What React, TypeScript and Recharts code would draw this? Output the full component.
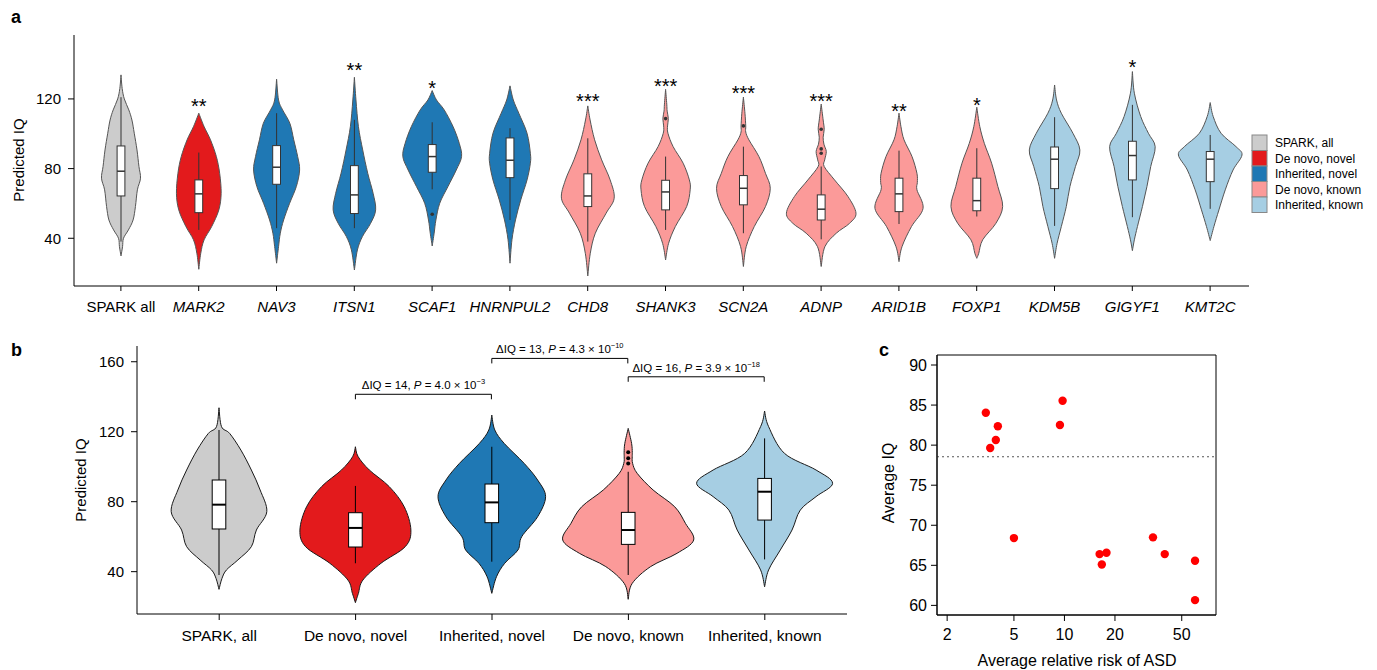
import React from "react";
import {
  ComposedChart,
  Bar,
  XAxis,
  YAxis,
  ScatterChart,
  Scatter,
  ReferenceLine,
  ReferenceArea,
} from "recharts";

const FONT = '"Liberation Sans", Arial, Helvetica, sans-serif';

// ---------------- shared groups ----------------
const groupNames = ["SPARK, all", "De novo, novel", "Inherited, novel", "De novo, known", "Inherited, known"];
const groupColors = ["#cccccc", "#e31a1c", "#1f78b4", "#fb9a99", "#a6cee3"];

// ---------------- panel a ----------------
const genesA = ["SPARK all", "MARK2", "NAV3", "ITSN1", "SCAF1", "HNRNPUL2", "CHD8", "SHANK3", "SCN2A", "ADNP", "ARID1B", "FOXP1", "KDM5B", "GIGYF1", "KMT2C"];
const groupOfGeneA = [0, 1, 2, 2, 2, 2, 3, 3, 3, 3, 3, 3, 4, 4, 4];
const tipLowA = [29.9, 22.2, 25.7, 21.8, 35.6, 25.7, 18.4, 27.6, 23.8, 23.8, 26.6, 28.5, 28.5, 32.9, 38.7];
const tipHighA = [133.8, 111.8, 131.3, 132.4, 124.8, 127.5, 116, 125.5, 121, 117, 111.8, 115.2, 128, 135.7, 117.9];
const q1A = [64.3, 54.7, 71, 54.2, 77.9, 74.8, 58.2, 56.3, 59.2, 50.5, 55.3, 55.8, 68.5, 73.5, 72.5];
const medianA = [78.5, 65.5, 80.8, 64.9, 86.9, 84.8, 64.3, 66.6, 68.7, 56.7, 65.5, 61.6, 85.4, 87.5, 85.4];
const q3A = [93, 73.5, 93.2, 81.7, 93.8, 97.6, 77, 73.3, 76, 64.9, 74.5, 74.5, 92.4, 95.7, 89.8];
const whiskLoA = [38.1, 44.8, 45.8, 45.8, 68.1, 50.5, 38.1, 44.8, 42.9, 39.4, 48.2, 52.5, 47.1, 52.1, 56.9];
const whiskHiA = [121, 89.2, 111.8, 108, 106.6, 103.2, 97.4, 86.9, 92.6, 81.2, 90.3, 91.7, 109.5, 116.6, 99.3];
const outliersA = [[], [], [], [], [53.8], [], [], [108.7], [104.5], [102.6, 91.3, 88.8], [], [], [], [], []];
const starsA = ["", "**", "", "**", "*", "", "***", "***", "***", "***", "**", "*", "", "*", ""];
const starIQA = [0, 118.5, 0, 138.9, 128.4, 0, 121.3, 129.6, 125.5, 121.3, 115.6, 118.9, 0, 140.5, 0];
// relative density (1 = half category width) at IQ levels
const densityA: number[][][] = [
  [[35.2, 0.04], [40, 0.064], [44.8, 0.19], [50.5, 0.31], [58.2, 0.37], [67.8, 0.42], [74.5, 0.5], [81.2, 0.46], [90.7, 0.41], [100.3, 0.34], [107.9, 0.28], [113.7, 0.2], [120, 0.085], [126, 0.03]],
  [[31.4, 0.05], [39.1, 0.136], [46.7, 0.33], [56.3, 0.514], [65.8, 0.573], [77.3, 0.535], [86.9, 0.45], [96.5, 0.3], [104.1, 0.136]],
  [[35.2, 0.05], [42.9, 0.095], [50.5, 0.18], [60.1, 0.334], [69.7, 0.506], [79.2, 0.59], [86.9, 0.54], [96.5, 0.44], [106, 0.34], [113.7, 0.154], [119.4, 0.05]],
  [[33.3, 0.077], [41, 0.206], [48.6, 0.416], [56.3, 0.545], [65.8, 0.48], [77.3, 0.342], [90.7, 0.213], [104.1, 0.103], [119.4, 0.04]],
  [[42.9, 0.05], [50.5, 0.095], [60.1, 0.193], [69.7, 0.404], [79.2, 0.617], [86.9, 0.753], [94.5, 0.694], [104.1, 0.535], [113.7, 0.308], [119.4, 0.11]],
  [[39.1, 0.05], [50.5, 0.141], [62, 0.275], [73.5, 0.437], [83.1, 0.522], [88.8, 0.522], [100.3, 0.437], [111.8, 0.226], [119.4, 0.085]],
  [[31.4, 0.064], [42.9, 0.193], [54.4, 0.47], [63, 0.676], [73.5, 0.573], [85, 0.355], [96.5, 0.175], [107.9, 0.059]],
  [[37.1, 0.077], [46.7, 0.249], [58.2, 0.54], [67.8, 0.63], [73.5, 0.609], [83.1, 0.45], [92.6, 0.193], [100.3, 0.06], [104.5, 0.05], [108.7, 0.07], [113, 0.04], [117, 0.03]],
  [[35.2, 0.072], [46.7, 0.278], [58.2, 0.566], [68.7, 0.689], [77.3, 0.566], [86.9, 0.398], [96.5, 0.141], [101, 0.06], [104.5, 0.06], [111.8, 0.04]],
  [[35.2, 0.095], [42.9, 0.386], [48.6, 0.728], [54.4, 0.892], [64, 0.686], [73.5, 0.342], [81.2, 0.077], [85, 0.09], [89.8, 0.13], [94, 0.07], [98, 0.05], [102.6, 0.077], [107.9, 0.05]],
  [[35.2, 0.077], [46.7, 0.319], [57.2, 0.617], [67.8, 0.46], [72, 0.47], [77.3, 0.46], [86.9, 0.334], [96.5, 0.129], [104.1, 0.05]],
  [[31.4, 0.05], [39.1, 0.15], [48.6, 0.49], [58.2, 0.663], [69.7, 0.54], [83.1, 0.38], [94.5, 0.193], [104.1, 0.077]],
  [[37.1, 0.064], [46.7, 0.172], [58.2, 0.3], [69.7, 0.393], [81.2, 0.535], [90.7, 0.648], [100.3, 0.47], [111.8, 0.172], [119.4, 0.05]],
  [[39.1, 0.05], [46.7, 0.129], [58.2, 0.257], [69.7, 0.373], [81.2, 0.47], [92.6, 0.584], [100.3, 0.41], [109.9, 0.213], [123.3, 0.05]],
  [[46.7, 0.095], [56.3, 0.224], [67.8, 0.386], [79.2, 0.586], [87.8, 0.815], [92.6, 0.663], [100.3, 0.278], [109.9, 0.077]],
];
const yTicksA = [40, 80, 120];

// ---------------- panel b ----------------
const tipLowB = [29.9, 22.3, 27.6, 24.2, 31.4];
const tipHighB = [133.7, 111.4, 129.5, 121.9, 131.8];
const q1B = [64.4, 54.1, 68, 55.6, 69.5];
const medianB = [78.3, 65, 79.6, 63.8, 85.7];
const q3B = [92.4, 73.7, 90.1, 73.9, 93.3];
const whiskLoB = [38.1, 44.8, 45.7, 38.1, 47];
const whiskHiB = [121, 89, 111.4, 97.1, 116.2];
const outliersB = [[], [], [], [108.2, 104.8, 101.9], []];
const densityB: number[][][] = [
  [[36.2, 0.044], [41, 0.11], [46.7, 0.278], [54.3, 0.476], [63.8, 0.55], [74.3, 0.703], [86.7, 0.605], [98.1, 0.476], [109.5, 0.322], [119, 0.157], [122.9, 0.037]],
  [[27.6, 0.044], [35.2, 0.11], [44.8, 0.376], [54.3, 0.733], [63.8, 0.816], [77.1, 0.718], [88.6, 0.498], [98.1, 0.205], [105.7, 0.041]],
  [[37.1, 0.069], [44.8, 0.19], [52.4, 0.385], [60, 0.44], [71.4, 0.674], [82.9, 0.791], [92.4, 0.674], [101.9, 0.476], [113.3, 0.183], [121, 0.044]],
  [[33.3, 0.059], [42.9, 0.33], [50.5, 0.718], [58.1, 0.963], [67.6, 0.842], [77.1, 0.684], [86.7, 0.366], [96.2, 0.132], [101.9, 0.065], [105.7, 0.059], [108.2, 0.06], [113.3, 0.05]],
  [[41, 0.059], [52.4, 0.231], [63.8, 0.403], [75.2, 0.525], [82.9, 0.757], [90.5, 1.0], [98.1, 0.757], [107.6, 0.293], [122.9, 0.059]],
];
const yTicksB = [40, 80, 120, 160];
const bracketFromB = [1, 2, 3];
const bracketToB = [2, 3, 4];
const bracketIQB = [141.4, 161.9, 151.4];
const bracketDeltaB = [14, 13, 16];
const bracketPMantB = ["4.0", "4.3", "3.9"];
const bracketPExpB = ["\u22123", "\u221210", "\u221218"];

// ---------------- panel c ----------------
const relRiskC = [3.4, 4.01, 3.9, 3.61, 9.75, 9.4, 5.0, 16.2, 17.8, 16.7, 33.7, 39.6, 60, 60];
const avgIQC = [84.04, 82.35, 80.64, 79.64, 85.54, 82.51, 68.4, 66.4, 66.57, 65.1, 68.49, 66.4, 65.57, 60.66];
const sparkMeanIQ = 78.55;
const xTicksC = [2, 5, 10, 20, 50];
const yTicksC = [60, 65, 70, 75, 80, 85, 90];

// ---------------- tables ----------------
const dataA = genesA.map((g, i) => ({
  name: g,
  range: [tipLowA[i], tipHighA[i]],
  density: densityA[i],
  q1: q1A[i],
  median: medianA[i],
  q3: q3A[i],
  whiskLo: whiskLoA[i],
  whiskHi: whiskHiA[i],
  outliers: outliersA[i],
  star: starsA[i],
  starIQ: starIQA[i],
  color: groupColors[groupOfGeneA[i]],
  brackets: [] as any[],
}));

const dataB = groupNames.map((g, i) => ({
  name: g,
  range: [tipLowB[i], tipHighB[i]],
  density: densityB[i],
  q1: q1B[i],
  median: medianB[i],
  q3: q3B[i],
  whiskLo: whiskLoB[i],
  whiskHi: whiskHiB[i],
  outliers: outliersB[i],
  star: "",
  starIQ: 0,
  color: groupColors[i],
  brackets: bracketFromB
    .map((f, k) => ({ f, span: bracketToB[k] - f, iq: bracketIQB[k], delta: bracketDeltaB[k], mant: bracketPMantB[k], exp: bracketPExpB[k] }))
    .filter((b) => b.f === i),
}));

const dataC = relRiskC.map((r, i) => ({ rr: r, iq: avgIQC[i] }));

// ---------------- helpers ----------------
function catmull(pts: number[][]): string {
  let d = "";
  for (let i = 0; i < pts.length - 1; i++) {
    const p0 = pts[i - 1] || pts[i];
    const p1 = pts[i];
    const p2 = pts[i + 1];
    const p3 = pts[i + 2] || pts[i + 1];
    const c1x = p1[0] + (p2[0] - p0[0]) / 6;
    const c1y = p1[1] + (p2[1] - p0[1]) / 6;
    const c2x = p2[0] - (p3[0] - p1[0]) / 6;
    const c2y = p2[1] - (p3[1] - p1[1]) / 6;
    d += ` C${c1x},${c1y} ${c2x},${c2y} ${p2[0]},${p2[1]}`;
  }
  return d;
}

type VStyle = { outline: string; box: string; medW: number; outR: number; outFill: string; lw: number; whisk: string };

function makeViolin(st: VStyle) {
  return function ViolinShape(props: any) {
    const { x, y, width, height, payload } = props;
    if (!payload || !isFinite(x) || !isFinite(y)) return <g />;
    const lo = payload.range[0];
    const hi = payload.range[1];
    const top = Math.min(y, y + height);
    const bottom = Math.max(y, y + height);
    const toPx = (v: number) => bottom - ((bottom - top) * (v - lo)) / (hi - lo);
    const cx = x + width / 2;
    const hw = width / 2;
    const prof: number[][] = [[lo, 0], ...payload.density, [hi, 0]];
    const right = prof.map(([v, dd]) => [cx + dd * hw, toPx(v)]);
    const left = prof
      .slice()
      .reverse()
      .map(([v, dd]) => [cx - dd * hw, toPx(v)]);
    const d = `M${right[0][0]},${right[0][1]}` + catmull(right) + catmull(left) + "Z";
    const bw = width * 0.1;
    return (
      <g>
        <path d={d} fill={payload.color} stroke={st.outline} strokeWidth={st.lw} />
        <line x1={cx} x2={cx} y1={toPx(payload.whiskLo)} y2={toPx(payload.q1)} stroke={st.whisk} strokeWidth={st.lw} />
        <line x1={cx} x2={cx} y1={toPx(payload.q3)} y2={toPx(payload.whiskHi)} stroke={st.whisk} strokeWidth={st.lw} />
        <rect x={cx - bw / 2} y={toPx(payload.q3)} width={bw} height={toPx(payload.q1) - toPx(payload.q3)} fill="#ffffff" stroke={st.box} strokeWidth={st.lw} />
        <line x1={cx - bw / 2} x2={cx + bw / 2} y1={toPx(payload.median)} y2={toPx(payload.median)} stroke={st.box} strokeWidth={st.medW} />
        {payload.outliers.map((o: number, k: number) => (
          <circle key={k} cx={cx} cy={toPx(o)} r={st.outR} fill={st.outFill} />
        ))}
        {payload.star ? (
          <text x={cx} y={toPx(payload.starIQ) + 11} textAnchor="middle" fontSize={20} fontFamily={FONT} fill="#000">
            {payload.star}
          </text>
        ) : null}
        {payload.brackets.map((b: any, k: number) => {
          const by = toPx(b.iq);
          const x2 = cx + b.span * width;
          return (
            <g key={"br" + k}>
              <polyline points={`${cx},${by + 5} ${cx},${by} ${x2},${by} ${x2},${by + 5}`} fill="none" stroke="#000" strokeWidth={1} />
              <text x={(cx + x2) / 2} y={by - 5} textAnchor="middle" fontSize={11.5} fontFamily={FONT} fill="#000">
                {`\u0394IQ = ${b.delta}, `}
                <tspan fontStyle="italic">P</tspan>
                {` = ${b.mant} \u00d7 10`}
                <tspan dy={-5} fontSize={7.5}>{b.exp}</tspan>
              </text>
            </g>
          );
        })}
      </g>
    );
  };
}

const violinA = makeViolin({ outline: "#555555", box: "#333333", medW: 1.5, outR: 1.8, outFill: "#333333", lw: 1, whisk: "#333333" });
const violinB = makeViolin({ outline: "#1a1a1a", box: "#000000", medW: 2, outR: 2, outFill: "#000000", lw: 1, whisk: "#000000" });

const GeneTick = (props: any) => {
  const { x, y, payload } = props;
  const name = payload.value;
  const idx = genesA.indexOf(name);
  const italic = idx >= 0 && groupOfGeneA[idx] !== 0;
  return (
    <text x={x} y={y} dy={12} textAnchor="middle" fontSize={15} fontStyle={italic ? "italic" : "normal"} fill="#000" fontFamily={FONT}>
      {name}
    </text>
  );
};

const RedDot = (props: any) => {
  const { cx, cy } = props;
  if (!isFinite(cx) || !isFinite(cy)) return <g />;
  return <circle cx={cx} cy={cy} r={4.2} fill="#ff0000" />;
};

const axisLine = { stroke: "#000", strokeWidth: 1 };

export default function App() {
  return (
    <div style={{ position: "absolute", left: 0, top: 0, width: 1377, height: 670, background: "#fff", fontFamily: FONT }}>
      {/* panel a */}
      <div style={{ position: "absolute", left: 0, top: 0 }}>
        <ComposedChart width={1377} height={330} data={dataA} margin={{ top: 35, right: 128, bottom: 0, left: 0 }} barCategoryGap={0} barGap={0}>
          <XAxis dataKey="name" type="category" height={44} padding={{ left: 8, right: 0 }} axisLine={axisLine} tickLine={axisLine} tickSize={5} tickMargin={9} tick={<GeneTick />} interval={0} />
          <YAxis type="number" width={74} domain={[12.6, 156.7]} ticks={yTicksA} axisLine={axisLine} tickLine={axisLine} tickSize={6} tickMargin={7} tick={{ fill: "#000", fontSize: 15, fontFamily: FONT }} />
          <Bar dataKey="range" isAnimationActive={false} shape={violinA} />
        </ComposedChart>
      </div>

      {/* panel b */}
      <div style={{ position: "absolute", left: 0, top: 330 }}>
        <ComposedChart width={870} height={340} data={dataB} margin={{ top: 16, right: 23, bottom: 0, left: 0 }} barCategoryGap={0} barGap={0}>
          <XAxis dataKey="name" type="category" height={56} padding={{ left: 14, right: 14 }} axisLine={axisLine} tickLine={axisLine} tickSize={6} tickMargin={10} tick={{ fill: "#000", fontSize: 15.5, fontFamily: FONT }} interval={0} />
          <YAxis type="number" width={137} domain={[15.8, 169]} ticks={yTicksB} axisLine={axisLine} tickLine={axisLine} tickSize={6} tickMargin={7} tick={{ fill: "#000", fontSize: 15, fontFamily: FONT }} />
          <Bar dataKey="range" isAnimationActive={false} shape={violinB} />
        </ComposedChart>
      </div>

      {/* panel c */}
      <div style={{ position: "absolute", left: 870, top: 330 }}>
        <ScatterChart width={507} height={340} margin={{ top: 25, right: 161, bottom: 0, left: 0 }}>
          <XAxis dataKey="rr" type="number" scale="log" domain={[1.74, 80]} ticks={xTicksC} height={55} axisLine={axisLine} tickLine={axisLine} tickSize={6} tickMargin={8} tick={{ fill: "#000", fontSize: 16, fontFamily: FONT }} />
          <YAxis dataKey="iq" type="number" domain={[58.8, 91.25]} ticks={yTicksC} width={67} axisLine={axisLine} tickLine={axisLine} tickSize={6} tickMargin={4} tick={{ fill: "#000", fontSize: 16, fontFamily: FONT }} />
          <ReferenceArea x1={1.74} x2={80} y1={58.8} y2={91.25} fill="none" fillOpacity={0} stroke="#000" strokeWidth={1} ifOverflow="visible" />
          <ReferenceLine y={sparkMeanIQ} stroke="#555" strokeWidth={1.2} strokeDasharray="2 3" />
          <Scatter data={dataC} isAnimationActive={false} shape={<RedDot />} />
        </ScatterChart>
      </div>

      {/* overlay texts & legend */}
      <svg width={1377} height={670} style={{ position: "absolute", left: 0, top: 0, pointerEvents: "none" }} fontFamily={FONT}>
        <text x={11} y={23} fontSize={18} fontWeight="bold">a</text>
        <text x={11} y={356} fontSize={18} fontWeight="bold">b</text>
        <text x={879} y={356} fontSize={18} fontWeight="bold">c</text>
        <text x={18} y={160} fontSize={15} textAnchor="middle" dominantBaseline="central" transform="rotate(-90 18 160)">Predicted IQ</text>
        <text x={80} y={480} fontSize={15} textAnchor="middle" dominantBaseline="central" transform="rotate(-90 80 480)">Predicted IQ</text>
        <text x={888} y={483} fontSize={16} textAnchor="middle" dominantBaseline="central" transform="rotate(-90 888 483)">Average IQ</text>
        <text x={1077} y={666} fontSize={16} textAnchor="middle">Average relative risk of ASD</text>
        {groupNames.map((g, i) => (
          <g key={g}>
            <rect x={1252} y={135 + i * 15.5} width={15} height={15.5} fill={groupColors[i]} stroke="#888" strokeWidth={1} />
            <text x={1275} y={135 + i * 15.5 + 12} fontSize={12}>{g}</text>
          </g>
        ))}
      </svg>
    </div>
  );
}
